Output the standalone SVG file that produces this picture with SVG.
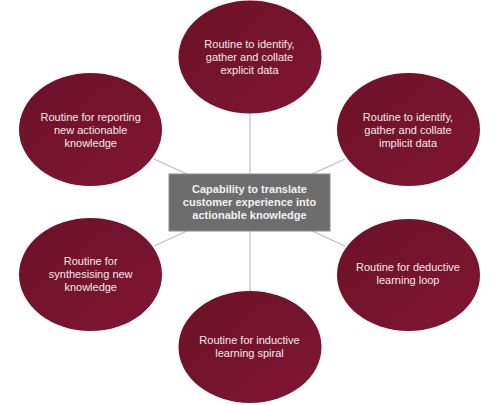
<svg xmlns="http://www.w3.org/2000/svg" width="500" height="405" viewBox="0 0 500 405">
  <defs>
    <linearGradient id="maroon" x1="0" y1="0" x2="1" y2="1">
      <stop offset="0" stop-color="#6b1128"/>
      <stop offset="1" stop-color="#801633"/>
    </linearGradient>
    <style>
      .node ellipse { fill: url(#maroon); }
      .label { font-family: "Liberation Sans", Arial, sans-serif; font-size: 11px; fill: #f4e8ec; text-anchor: middle; }
      .center-label { font-family: "Liberation Sans", Arial, sans-serif; font-size: 11px; font-weight: bold; fill: #f2f2f2; text-anchor: middle; }
      .conn line { stroke: #bdbdbd; stroke-width: 1.2; }
    </style>
  </defs>
  <rect width="500" height="405" fill="#ffffff"/>
  <g id="connectors" class="conn">
    <line x1="250" y1="113" x2="250" y2="174"/>
    <line x1="250" y1="231" x2="250" y2="291"/>
    <line x1="154" y1="159" x2="187" y2="174"/>
    <line x1="345" y1="159" x2="312" y2="174"/>
    <line x1="187" y1="231" x2="154" y2="246"/>
    <line x1="312" y1="231" x2="345" y2="246"/>
  </g>
  <g id="center" >
    <rect x="169" y="174" width="161" height="57" fill="#6d6d6d" stroke="#8c8c8c" stroke-width="1"/>
    <text class="center-label" x="249.5" y="193.3">Capability to translate</text>
    <text class="center-label" x="249.5" y="206.3">customer experience into</text>
    <text class="center-label" x="249.5" y="219.3">actionable knowledge</text>
  </g>
  <g id="explicit-data" class="node">
    <ellipse cx="250" cy="57" rx="71.5" ry="56.5"/>
    <text class="label" x="249.5" y="47.5">Routine to identify,</text>
    <text class="label" x="249.5" y="60.5">gather and collate</text>
    <text class="label" x="249.5" y="73.5">explicit data</text>
  </g>
  <g id="reporting" class="node">
    <ellipse cx="90.5" cy="129.5" rx="71.5" ry="56.5"/>
    <text class="label" x="90.7" y="120.5">Routine for reporting</text>
    <text class="label" x="90.7" y="133.5">new actionable</text>
    <text class="label" x="90.7" y="146.5">knowledge</text>
  </g>
  <g id="implicit-data" class="node">
    <ellipse cx="408.5" cy="129.5" rx="71.5" ry="56.5"/>
    <text class="label" x="408" y="120.5">Routine to identify,</text>
    <text class="label" x="408" y="133.5">gather and collate</text>
    <text class="label" x="408" y="146.5">implicit data</text>
  </g>
  <g id="synthesising" class="node">
    <ellipse cx="90.5" cy="274.5" rx="71.5" ry="56.5"/>
    <text class="label" x="90.7" y="265">Routine for</text>
    <text class="label" x="90.7" y="278">synthesising new</text>
    <text class="label" x="90.7" y="291">knowledge</text>
  </g>
  <g id="deductive" class="node">
    <ellipse cx="408.5" cy="275" rx="71.5" ry="56"/>
    <text class="label" x="408" y="271">Routine for deductive</text>
    <text class="label" x="408" y="284">learning loop</text>
  </g>
  <g id="inductive" class="node">
    <ellipse cx="250" cy="347" rx="71.5" ry="56"/>
    <text class="label" x="249.5" y="344">Routine for inductive</text>
    <text class="label" x="249.5" y="357">learning spiral</text>
  </g>
</svg>
